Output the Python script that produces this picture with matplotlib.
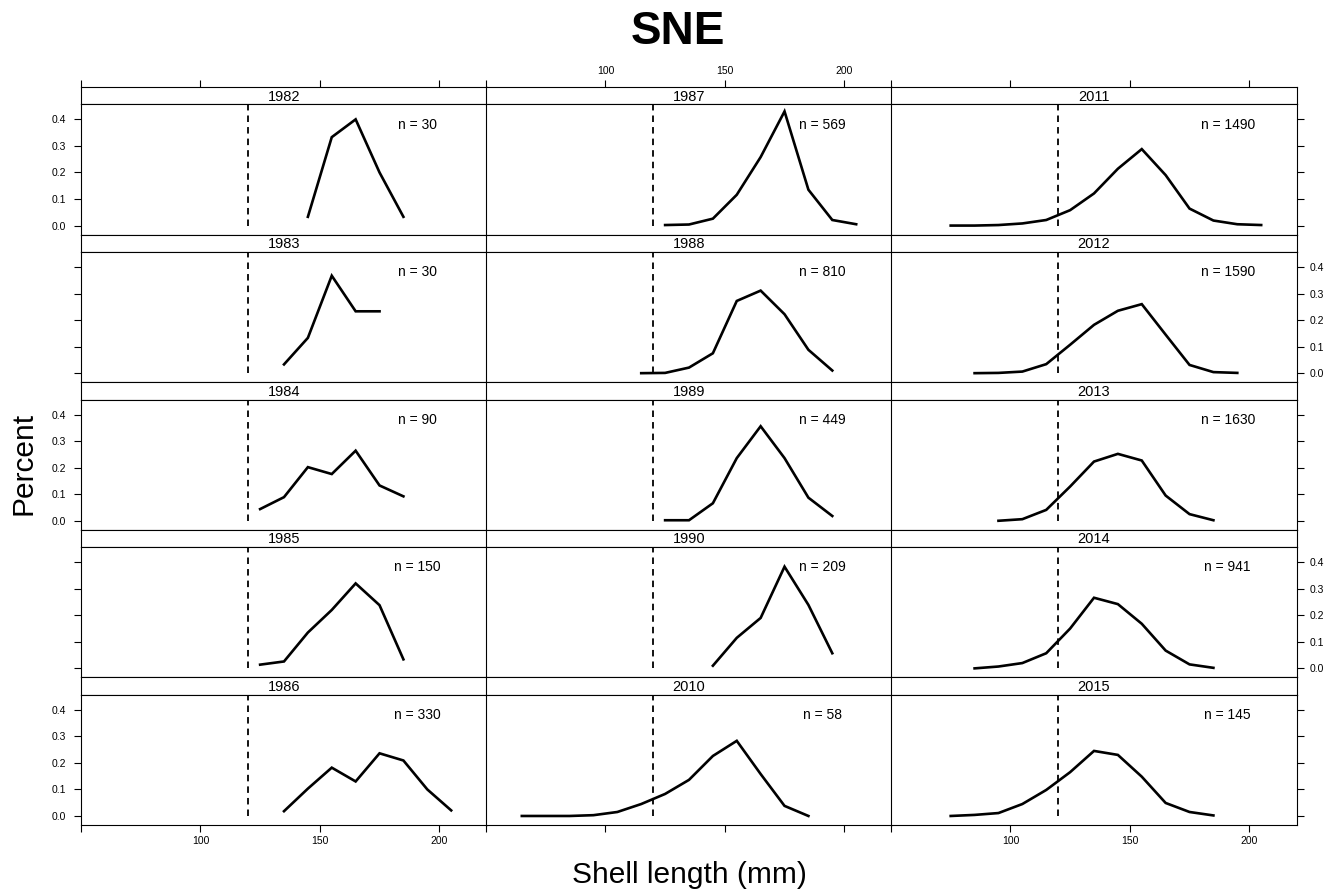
import matplotlib
matplotlib.use("Agg")
import matplotlib.pyplot as plt
import numpy as np

plt.rcParams['font.family'] = ['Liberation Sans', 'DejaVu Sans']

# bin midpoints of shell length (mm)
bins = [65, 75, 85, 95, 105, 115, 125, 135, 145, 155, 165, 175, 185, 195, 205]
na = None

pct_1982 = [na, na, na, na, na, na, na, na, 0.033, 0.333, 0.400, 0.200, 0.033, na, na]
pct_1983 = [na, na, na, na, na, na, na, 0.033, 0.133, 0.367, 0.233, 0.233, na, na, na]
pct_1984 = [na, na, na, na, na, na, 0.044, 0.089, 0.202, 0.176, 0.264, 0.133, 0.092, na, na]
pct_1985 = [na, na, na, na, na, na, 0.014, 0.026, 0.135, 0.220, 0.320, 0.238, 0.034, na, na]
pct_1986 = [na, na, na, na, na, na, na, 0.018, 0.103, 0.182, 0.130, 0.236, 0.209, 0.100, 0.021]
pct_1987 = [na, na, na, na, na, na, 0.002, 0.004, 0.026, 0.116, 0.258, 0.430, 0.135, 0.021, 0.005]
pct_1988 = [na, na, na, na, na, 0.000, 0.001, 0.021, 0.075, 0.272, 0.311, 0.222, 0.088, 0.010, na]
pct_1989 = [na, na, na, na, na, na, 0.002, 0.002, 0.066, 0.236, 0.356, 0.236, 0.087, 0.018, na]
pct_1990 = [na, na, na, na, na, na, na, na, 0.010, 0.115, 0.190, 0.383, 0.239, 0.057, na]
pct_2010 = [0.000, 0.000, 0.000, 0.003, 0.015, 0.045, 0.083, 0.136, 0.226, 0.283, 0.158, 0.038, 0.000, na, na]
pct_2011 = [na, 0.000, 0.000, 0.002, 0.008, 0.021, 0.058, 0.121, 0.214, 0.288, 0.190, 0.064, 0.019, 0.005, 0.002]
pct_2012 = [na, na, 0.000, 0.001, 0.006, 0.034, 0.107, 0.182, 0.235, 0.260, 0.145, 0.031, 0.004, 0.001, na]
pct_2013 = [na, na, na, 0.000, 0.006, 0.041, 0.129, 0.223, 0.252, 0.227, 0.095, 0.025, 0.002, na, na]
pct_2014 = [na, na, 0.000, 0.007, 0.020, 0.057, 0.150, 0.266, 0.242, 0.168, 0.067, 0.015, 0.002, na, na]
pct_2015 = [na, 0.000, 0.004, 0.011, 0.045, 0.098, 0.165, 0.245, 0.230, 0.148, 0.049, 0.015, 0.002, na, na]

years = [1982, 1983, 1984, 1985, 1986,
         1987, 1988, 1989, 1990, 2010,
         2011, 2012, 2013, 2014, 2015]
n_obs = [30, 30, 90, 150, 330,
         569, 810, 449, 209, 58,
         1490, 1590, 1630, 941, 145]
series = [pct_1982, pct_1983, pct_1984, pct_1985, pct_1986,
          pct_1987, pct_1988, pct_1989, pct_1990, pct_2010,
          pct_2011, pct_2012, pct_2013, pct_2014, pct_2015]
min_size = 120

W, H = 1338, 896
fig = plt.figure(figsize=(W / 100, H / 100), dpi=100)

col_left = [81, 486, 891]
col_w = 406
row_top = 87
row_step = 147.6
strip_h = 17.5
xlim = (50, 220)
ylim = (-0.034, 0.456)
xt = [50, 100, 150, 200]
xtl = ['', '100', '150', '200']
yt = [0.0, 0.1, 0.2, 0.3, 0.4]
ytl = ['0.0', '0.1', '0.2', '0.3', '0.4']
tick_kw = dict(direction='out', length=5, width=0.8, labelsize=7.5, color='black')


def box(x0, y0, w, h):
    return [x0 / W, 1 - (y0 + h) / H, w / W, h / H]


for i, (yr, n, pct) in enumerate(zip(years, n_obs, series)):
    c, r = i // 5, i % 5
    x0 = col_left[c]
    st = row_top + r * row_step
    sax = fig.add_axes(box(x0, st, col_w, strip_h))
    ax = fig.add_axes(box(x0, st + strip_h, col_w, row_step - strip_h))

    y = np.array(pct, dtype=float)
    ax.plot(bins, y, color='black', lw=1.9, solid_joinstyle='miter')
    ax.plot([min_size, min_size], [0, 0.5], color='black', lw=1.3, dashes=(3.6, 2.8))
    ax.text(191, 0.38, 'n = %d' % n, ha='center', va='center', fontsize=10)
    ax.set_xlim(*xlim)
    ax.set_ylim(*ylim)

    # strip
    sax.set_xlim(*xlim)
    sax.set_yticks([])
    sax.text(0.5, 0.45, str(yr), transform=sax.transAxes, ha='center', va='center', fontsize=10.5)
    if r == 0:
        sax.set_xticks(xt)
        sax.set_xticklabels(xtl if c == 1 else [''] * 4)
        sax.tick_params(axis='x', top=True, bottom=False, labeltop=True, labelbottom=False, pad=3, **tick_kw)
    else:
        sax.set_xticks([])

    for a in (ax, sax):
        for s in a.spines.values():
            s.set_linewidth(0.8)
            s.set_color('black')

    # x axis of panel
    if r == 4:
        ax.set_xticks(xt)
        ax.set_xticklabels(xtl if c != 1 else [''] * 4)
        ax.tick_params(axis='x', pad=3, **tick_kw)
    else:
        ax.set_xticks([])

    # y axis
    if c == 0:
        ax.set_yticks(yt)
        ax.set_yticklabels(ytl if r % 2 == 0 else [''] * 5)
        ax.tick_params(axis='y', left=True, right=False, pad=6, **tick_kw)
    elif c == 2:
        ax.set_yticks(yt)
        ax.set_yticklabels(ytl if r % 2 == 1 else [''] * 5)
        ax.yaxis.tick_right()
        ax.tick_params(axis='y', left=False, right=True, labelright=True, pad=4, **tick_kw)
    else:
        ax.set_yticks([])

fig.text(678 / W, 1 - 32 / H, 'SNE', ha='center', va='center', fontsize=33, fontweight='bold')
fig.text(24 / W, 1 - 463 / H, 'Percent', ha='center', va='center', rotation=90, fontsize=21.5)
fig.text(689 / W, 1 - 875 / H, 'Shell length (mm)', ha='center', va='center', fontsize=21.5)

fig.savefig('out.png', dpi=100)
